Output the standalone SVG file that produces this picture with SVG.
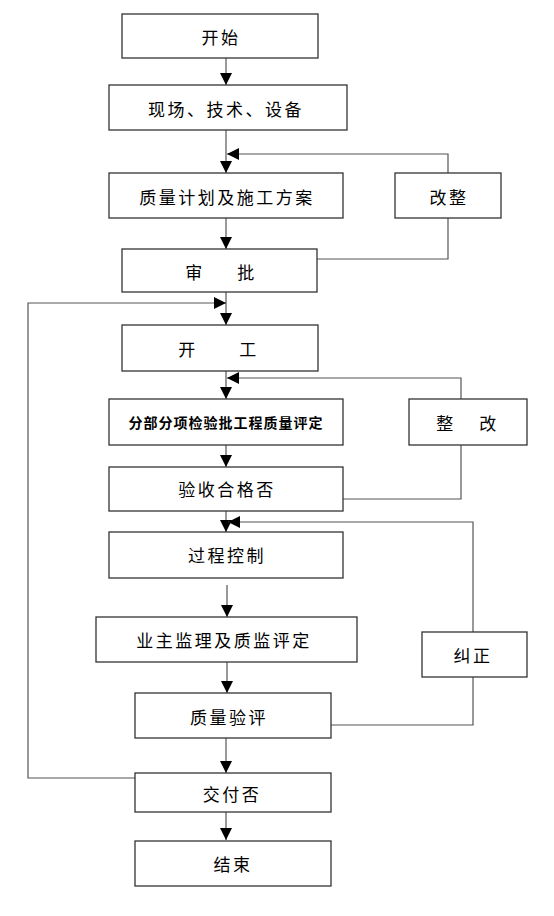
<svg xmlns="http://www.w3.org/2000/svg" width="554" height="916" viewBox="0 0 554 916">
<style>
.box{fill:#fff;stroke:#333;stroke-width:1.3}
.t{font-family:"Noto Sans CJK SC","Noto Sans CJK JP",sans-serif;font-size:17px;letter-spacing:2.5px;fill:#000;text-anchor:middle;dominant-baseline:central}
.tb{font-size:14px;font-weight:bold;letter-spacing:1px}
.c{fill:none;stroke:#555;stroke-width:1.2}
</style>
<defs>
<marker id="ah" viewBox="0 0 10 10" refX="10" refY="5" markerWidth="12" markerHeight="12" markerUnits="userSpaceOnUse" orient="auto">
<path d="M0,0 L10,5 L0,10 z" fill="#000"/>
</marker>
</defs>
<rect width="554" height="916" fill="#fff"/>
<g id="connectors">
<path class="c" d="M226,58 V85" marker-end="url(#ah)"/>
<path class="c" d="M226,130 V173" marker-end="url(#ah)"/>
<path class="c" d="M448,173 V154 H227" marker-end="url(#ah)"/>
<path class="c" d="M226,218 V249" marker-end="url(#ah)"/>
<path class="c" d="M317,259 H448 V218"/>
<path class="c" d="M226,292 V325" marker-end="url(#ah)"/>
<path class="c" d="M135,778 H28 V303 H226" marker-end="url(#ah)"/>
<path class="c" d="M226,371 V399" marker-end="url(#ah)"/>
<path class="c" d="M461,399 V378 H227" marker-end="url(#ah)"/>
<path class="c" d="M226,445 V467" marker-end="url(#ah)"/>
<path class="c" d="M343,499 H461 V445"/>
<path class="c" d="M226,511 V532" marker-end="url(#ah)"/>
<path class="c" d="M473,632 V522 H228" marker-end="url(#ah)"/>
<path class="c" d="M227,585 V617" marker-end="url(#ah)"/>
<path class="c" d="M227,662 V693" marker-end="url(#ah)"/>
<path class="c" d="M331,725 H473 V677"/>
<path class="c" d="M226,735 V773" marker-end="url(#ah)"/>
<path class="c" d="M226,785 V840" marker-end="url(#ah)"/>
</g>
<g id="n-start"><rect class="box" x="122" y="14" width="196" height="44"/><text class="t" x="221" y="36">开始</text></g>
<g id="n-prep"><rect class="box" x="109" y="85" width="238" height="45"/><text class="t" x="226" y="108">现场、技术、设备</text></g>
<g id="n-plan"><rect class="box" x="109" y="173" width="234" height="45"/><text class="t" x="227" y="196">质量计划及施工方案</text></g>
<g id="n-fix1"><rect class="box" x="395" y="173" width="106" height="45"/><text class="t" x="449" y="196">改整</text></g>
<g id="n-approve"><rect class="box" x="122" y="249" width="195" height="43"/><text class="t" x="220" y="271"><tspan x="195">审</tspan><tspan x="247">批</tspan></text></g>
<g id="n-begin"><rect class="box" x="122" y="325" width="196" height="46"/><text class="t" x="220" y="348"><tspan x="188">开</tspan><tspan x="249">工</tspan></text></g>
<g id="n-eval"><rect class="box" x="109" y="399" width="234" height="46"/><text class="t tb" x="226" y="422">分部分项检验批工程质量评定</text></g>
<g id="n-fix2"><rect class="box" x="409" y="399" width="118" height="46"/><text class="t" x="468" y="422"><tspan x="446">整</tspan><tspan x="489">改</tspan></text></g>
<g id="n-accept"><rect class="box" x="109" y="467" width="234" height="44"/><text class="t" x="227" y="488">验收合格否</text></g>
<g id="n-process"><rect class="box" x="109" y="532" width="234" height="46"/><text class="t" x="227" y="554">过程控制</text></g>
<g id="n-owner"><rect class="box" x="96" y="617" width="261" height="45"/><text class="t" x="224" y="639">业主监理及质监评定</text></g>
<g id="n-correct"><rect class="box" x="422" y="632" width="105" height="45"/><text class="t" x="473" y="654">纠正</text></g>
<g id="n-qeval"><rect class="box" x="135" y="693" width="196" height="45"/><text class="t" x="229" y="716">质量验评</text></g>
<g id="n-deliver"><rect class="box" x="135" y="773" width="196" height="39"/><text class="t" x="232" y="793">交付否</text></g>
<g id="n-end"><rect class="box" x="135" y="841" width="196" height="45"/><text class="t" x="233" y="863">结束</text></g>
</svg>
